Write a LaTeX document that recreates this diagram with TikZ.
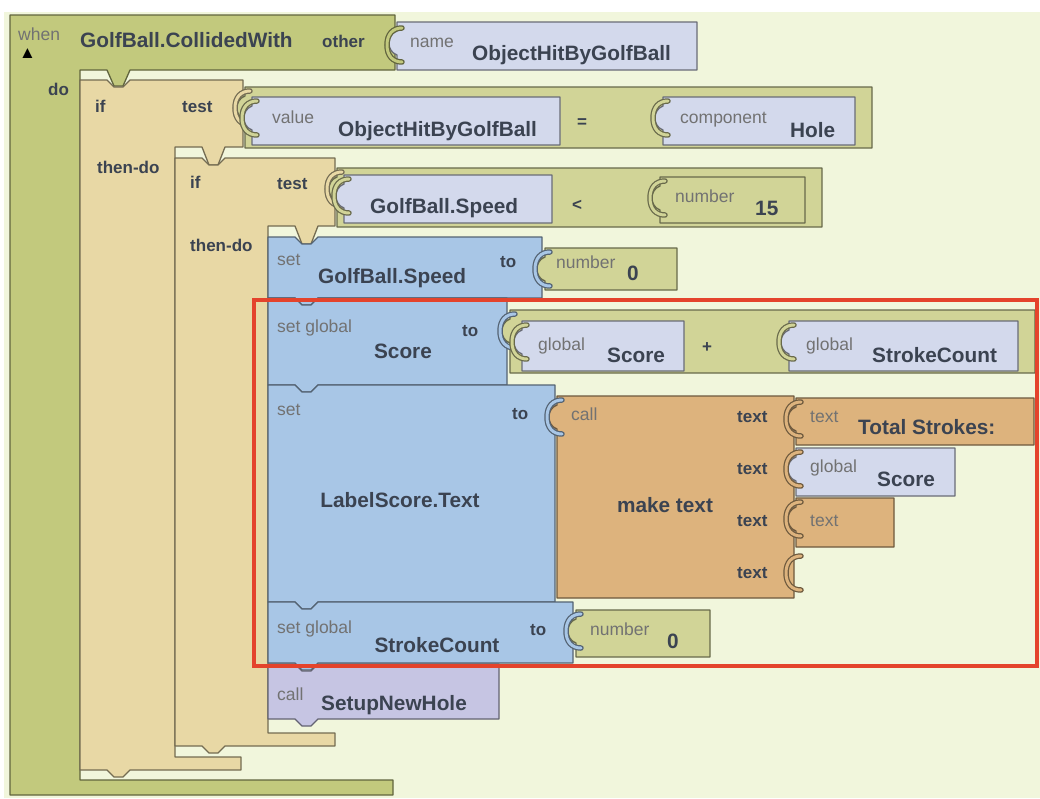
\documentclass[tikz,border=0pt]{standalone}
\usepackage{fontspec}
\setmainfont{Liberation Sans}
\definecolor{bg}{HTML}{F1F6DC}
\definecolor{evgreen}{HTML}{C2C97D}
\definecolor{mathgreen}{HTML}{D1D497}
\definecolor{ctltan}{HTML}{E8D8A5}
\definecolor{getlav}{HTML}{D3D9EC}
\definecolor{setblue}{HTML}{A8C6E6}
\definecolor{txtorange}{HTML}{DDB37D}
\definecolor{callpurple}{HTML}{C6C5E3}
\definecolor{redframe}{HTML}{E4432C}
\definecolor{labeldark}{HTML}{3B4351}
\definecolor{labelgrey}{HTML}{727272}
% statement tabs (x of block, y of edge, depth)
\newcommand\tabR[3]{-- (#1+27,#2) -- (#1+34,#2+#3) -- (#1+43,#2+#3) -- (#1+50,#2)}
\newcommand\tabL[3]{-- (#1+50,#2) -- (#1+43,#2+#3) -- (#1+34,#2+#3) -- (#1+27,#2)}
% value plug on the left edge (x, top)
\newcommand\plug[2]{-- (#1,#2+33) .. controls (#1-5,#2+31) and (#1-8,#2+27) .. (#1-8,#2+21) .. controls (#1-8,#2+15) and (#1-5,#2+11) .. (#1,#2+9)}
% socket brace in the parent's colour (colour, x, top)
\newcommand\bracepath[2]{(#1+5,#2+4) .. controls (#1-4,#2+4) and (#1-10,#2+10) .. (#1-10,#2+21) .. controls (#1-10,#2+32) and (#1-4,#2+38) .. (#1+5,#2+38)}
\newcommand\socket[3]{%
    \draw[#1!50!black, line width=5.5pt, line cap=round] \bracepath{#2}{#3};
    \draw[#1, line width=3pt, line cap=round] \bracepath{#2}{#3};}
\tikzset{
    block/.style={
        draw=#1!50!black,
        fill=#1,
        line width=1.3pt,
        line join=round},
    big/.style={
        font=\fontsize{20.8}{22}\selectfont\bfseries,
        text=labeldark,
        inner sep=0pt},
    mid/.style={
        font=\fontsize{17}{18}\selectfont\bfseries,
        text=labeldark,
        inner sep=0pt},
    small/.style={
        font=\fontsize{17.5}{18}\selectfont,
        text=labelgrey,
        inner sep=0pt}}

\begin{document}
\begin{tikzpicture}[x=1pt,y=-1pt]
        \useasboundingbox (0,0) rectangle (1040,798);
        \fill[white] (0,0) rectangle (1040,798);
        \fill[bg] (4,12) rectangle (1040,798);

        % when GolfBall.CollidedWith
        \draw[block=evgreen] (10,15) -- (395,15) -- (395,70) \tabL{80}{70}{16} -- (80,70) -- (80,780) -- (393,780) -- (393,795) -- (10,795) -- cycle;
        \draw[block=getlav] (397,22) -- (697,22) -- (697,70) -- (397,70) \plug{397}{22} -- cycle;
        \socket{evgreen}{397}{24}

        % outer if
        \draw[block=ctltan] (80,80) \tabR{80}{80}{7} -- (243,80) -- (243,147) \tabL{175}{147}{18} -- (175,147) -- (175,757) -- (241,757) -- (241,770) \tabL{80}{770}{7} -- (80,770) -- cycle;
        \draw[block=mathgreen] (245,87) -- (872,87) -- (872,148) -- (245,148) \plug{245}{87} -- cycle;
        \socket{ctltan}{245}{87}
        \draw[block=getlav] (252,97) -- (560,97) -- (560,145) -- (252,145) \plug{252}{97} -- cycle;
        \socket{mathgreen}{252}{97}
        \draw[block=getlav] (663,97) -- (855,97) -- (855,145) -- (663,145) \plug{663}{97} -- cycle;
        \socket{mathgreen}{663}{97}

        % inner if
        \draw[block=ctltan] (175,158) \tabR{175}{158}{7} -- (335,158) -- (335,226) \tabL{268}{226}{18} -- (268,226) -- (268,733) -- (335,733) -- (335,746) \tabL{175}{746}{7} -- (175,746) -- cycle;
        \draw[block=mathgreen] (337,168) -- (822,168) -- (822,227) -- (337,227) \plug{337}{168} -- cycle;
        \socket{ctltan}{337}{168}
        \draw[block=getlav] (344,175) -- (552,175) -- (552,223) -- (344,223) \plug{344}{175} -- cycle;
        \socket{mathgreen}{344}{175}
        \draw[block=mathgreen] (660,177) -- (805,177) -- (805,223) -- (660,223) \plug{660}{177} -- cycle;
        \socket{mathgreen}{660}{177}

        % then-do statements
        \draw[block=setblue] (268,237) \tabR{268}{237}{7} -- (542,237) -- (542,298) \tabL{268}{298}{7} -- (268,298) -- cycle;
        \draw[block=mathgreen] (545,248) -- (677,248) -- (677,290) -- (545,290) \plug{545}{248} -- cycle;
        \socket{setblue}{545}{248}

        \draw[block=setblue] (268,298) \tabR{268}{298}{7} -- (507,298) -- (507,385) \tabL{268}{385}{7} -- (268,385) -- cycle;
        \draw[block=mathgreen] (510,310) -- (1035,310) -- (1035,373) -- (510,373) \plug{510}{310} -- cycle;
        \socket{setblue}{510}{310}
        \draw[block=getlav] (522,321) -- (684,321) -- (684,371) -- (522,371) \plug{522}{321} -- cycle;
        \socket{mathgreen}{522}{321}
        \draw[block=getlav] (789,321) -- (1018,321) -- (1018,371) -- (789,371) \plug{789}{321} -- cycle;
        \socket{mathgreen}{789}{321}

        \draw[block=setblue] (268,385) \tabR{268}{385}{7} -- (555,385) -- (555,602) \tabL{268}{602}{7} -- (268,602) -- cycle;
        \draw[block=txtorange] (557,396) -- (794,396) -- (794,598) -- (557,598) \plug{557}{396} -- cycle;
        \socket{setblue}{557}{396}
        \draw[block=txtorange] (796,398) -- (1034,398) -- (1034,445) -- (796,445) \plug{796}{398} -- cycle;
        \socket{txtorange}{796}{398}
        \draw[block=getlav] (796,448) -- (955,448) -- (955,496) -- (796,496) \plug{796}{448} -- cycle;
        \socket{txtorange}{796}{448}
        \draw[block=txtorange] (796,498) -- (894,498) -- (894,547) -- (796,547) \plug{796}{498} -- cycle;
        \socket{txtorange}{796}{498}
        \socket{txtorange}{796}{552}

        \draw[block=setblue] (268,602) \tabR{268}{602}{7} -- (573,602) -- (573,663) \tabL{268}{663}{7} -- (268,663) -- cycle;
        \draw[block=mathgreen] (576,610) -- (710,610) -- (710,657) -- (576,657) \plug{576}{610} -- cycle;
        \socket{setblue}{576}{610}

        \draw[block=callpurple] (268,664) \tabR{268}{664}{7} -- (499,664) -- (499,719) \tabL{268}{719}{7} -- (268,719) -- cycle;

        % labels
        \node[small, anchor=base west] (whenlbl) at (18,40) {when};
        \node[anchor=base west, inner sep=0pt, font=\fontsize{17}{17}\selectfont] (whentri) at (19,58) {▲};
        \node[big, anchor=base west] (evname) at (80,47) {GolfBall.CollidedWith};
        \node[mid, anchor=base west] (otherlbl) at (322,47) {other};
        \node[small, anchor=base west] (namelbl) at (410,47) {name};
        \node[big, anchor=base west] (namearg) at (472,60) {ObjectHitByGolfBall};
        \node[mid, anchor=base west] (dolbl) at (48,95) {do};
        \node[mid, anchor=base west] (iflbl1) at (95,112) {if};
        \node[mid, anchor=base west] (testlbl1) at (182,112) {test};
        \node[mid, anchor=base west] (thenlbl1) at (97,173) {then-do};
        \node[small, anchor=base west] (valuelbl) at (272,123) {value};
        \node[big, anchor=base west] (valuearg) at (338,136) {ObjectHitByGolfBall};
        \node[mid] (eqsign) at (582,123) {=};
        \node[small, anchor=base west] (complbl) at (680,123) {component};
        \node[big, anchor=base west] (holearg) at (790,137) {Hole};
        \node[mid, anchor=base west] (iflbl2) at (190,188) {if};
        \node[mid, anchor=base west] (testlbl2) at (277,189) {test};
        \node[mid, anchor=base west] (thenlbl2) at (190,251) {then-do};
        \node[big, anchor=base west] (speedget) at (370,213) {GolfBall.Speed};
        \node[mid] (ltsign) at (577,205) {<};
        \node[small, anchor=base west] (numlbl1) at (675,202) {number};
        \node[big, anchor=base west] (numarg1) at (755,215) {15};
        \node[small, anchor=base west] (setlbl1) at (277,265) {set};
        \node[big, anchor=base west] (speedset) at (318,283) {GolfBall.Speed};
        \node[mid, anchor=base west] (tolbl1) at (500,267) {to};
        \node[small, anchor=base west] (numlbl2) at (556,268) {number};
        \node[big, anchor=base west] (numarg2) at (627,280) {0};
        \node[small, anchor=base west] (setlbl2) at (277,332) {set global};
        \node[big, anchor=base] (scoreset) at (403,358) {Score};
        \node[mid, anchor=base west] (tolbl2) at (462,336) {to};
        \node[small, anchor=base west] (globlbl1) at (538,350) {global};
        \node[big, anchor=base west] (scoreget1) at (607,362) {Score};
        \node[mid] (plussign) at (707,348) {+};
        \node[small, anchor=base west] (globlbl2) at (806,350) {global};
        \node[big, anchor=base west] (strokeget) at (872,362) {StrokeCount};
        \node[small, anchor=base west] (setlbl3) at (277,415) {set};
        \node[big, anchor=base] (labelset) at (400,507) {LabelScore.Text};
        \node[mid, anchor=base west] (tolbl3) at (512,419) {to};
        \node[small, anchor=base west] (calllbl1) at (571,420) {call};
        \node[big, anchor=base] (maketext) at (665,512) {make text};
        \foreach \r/\b in {a/422,b/474,c/526,d/578}
            \node[mid, anchor=base west] (textin\r) at (737,\b) {text};
        \node[small, anchor=base west] (txtlbl1) at (810,422) {text};
        \node[big, anchor=base west] (totalstr) at (858,434) {Total Strokes:};
        \node[small, anchor=base west] (globlbl3) at (810,472) {global};
        \node[big, anchor=base west] (scoreget2) at (877,486) {Score};
        \node[small, anchor=base west] (txtlbl2) at (810,526) {text};
        \node[small, anchor=base west] (setlbl4) at (277,633) {set global};
        \node[big, anchor=base] (strokeset) at (437,652) {StrokeCount};
        \node[mid, anchor=base west] (tolbl4) at (530,635) {to};
        \node[small, anchor=base west] (numlbl3) at (590,635) {number};
        \node[big, anchor=base west] (numarg3) at (667,648) {0};
        \node[small, anchor=base west] (calllbl2) at (277,700) {call};
        \node[big, anchor=base] (setupcall) at (394,710) {SetupNewHole};

        % highlight
        \draw[redframe, line width=4pt] (254,300) rectangle (1037,666);
\end{tikzpicture}
\end{document}
